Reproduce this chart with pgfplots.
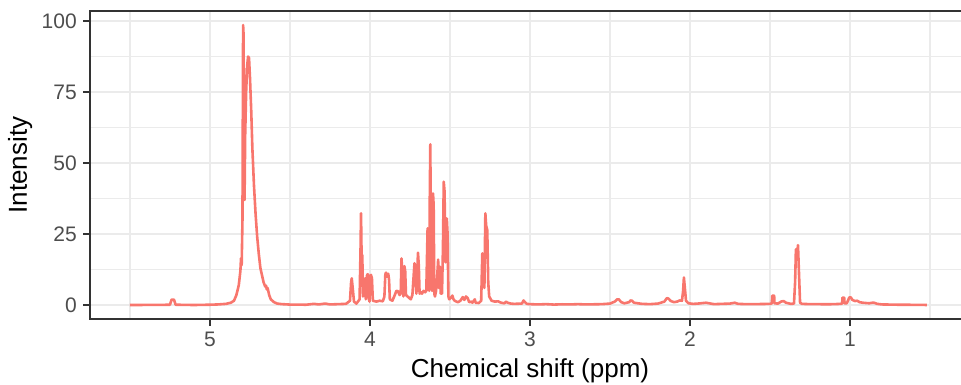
\documentclass[border=0pt]{standalone}
\usepackage{fontspec}
\setmainfont{Liberation Sans}
\usepackage{pgfplots}
\pgfplotsset{compat=1.18}
\definecolor{linecol}{HTML}{F8766D}
\definecolor{gridcol}{HTML}{EBEBEB}
\definecolor{tickcol}{HTML}{4D4D4D}
\definecolor{framecol}{HTML}{333333}
\begin{document}
\begin{tikzpicture}[x=1pt,y=1pt]
\path[use as bounding box] (0,0) rectangle (961,384);
\begin{axis}[
  at={(90pt,65pt)}, anchor=south west,
  scale only axis, width=880pt, height=308pt,
  x dir=reverse, xmin=0.25, xmax=5.75, ymin=-4.93, ymax=103.53,
  xtick={1,2,3,4,5}, ytick={0,25,50,75,100},
  minor xtick={0.5,1.5,2.5,3.5,4.5,5.5}, minor ytick={12.5,37.5,62.5,87.5},
  grid=both,
  major grid style={gridcol, line width=2.2pt},
  minor grid style={gridcol, line width=1.1pt},
  axis line style={framecol, line width=2.2pt},
  tick align=outside, tick pos=left,
  major tick length=6.5pt, minor tick length=0pt,
  major tick style={framecol, line width=2.2pt},
  /pgf/number format/assume math mode=true,
  ticklabel style={font=\fontsize{21}{21}\selectfont, text=tickcol, inner sep=0pt},
  xticklabel style={anchor=north, yshift=-6pt},
  yticklabel style={anchor=east, xshift=-6.5pt},
  every axis x label/.style={at={(axis description cs:0.5,0)}, anchor=base, yshift=-58pt, font=\fontsize{26}{26}\selectfont},
  every axis y label/.style={at={(axis description cs:-0.0716,0.5)}, rotate=90, anchor=base, font=\fontsize{26}{26}\selectfont},
  xlabel={Chemical shift (ppm)}, ylabel={Intensity},
]
\addplot[linecol, line width=2.6pt, line join=round, mark=none] coordinates {
(5.50,0.0) (5.30,0.05) (5.25,0.1) (5.24,1.9) (5.225,1.9) (5.215,0.1) (5.10,0.0) (5.00,0.1)
(4.95,0.2) (4.90,0.4) (4.87,0.8) (4.85,1.5) (4.835,3.5) (4.82,7) (4.81,12) (4.806,16.5)
(4.802,14) (4.797,30) (4.793,98.6) (4.790,95) (4.787,45) (4.784,37) (4.780,60) (4.774,75)
(4.768,84) (4.762,87.5) (4.756,87) (4.750,80) (4.742,68) (4.735,55) (4.725,42) (4.715,32)
(4.705,24) (4.695,18) (4.685,13) (4.675,10.5) (4.665,8) (4.655,6.5) (4.650,6.8) (4.645,5.5)
(4.640,6.0) (4.630,3.5) (4.620,2.0) (4.60,1.0) (4.58,0.5) (4.55,0.3) (4.50,0.15) (4.40,0.1)
(4.35,0.4) (4.32,0.2) (4.28,0.5) (4.25,0.2) (4.20,0.3) (4.15,0.4) (4.125,1.5) (4.118,8)
(4.114,9.4) (4.108,6) (4.10,1.2) (4.085,0.5) (4.065,2) (4.059,20) (4.056,32.3) (4.052,15)
(4.048,17.6) (4.044,3) (4.038,6) (4.031,9.4) (4.026,2) (4.019,10.4) (4.014,10.9) (4.010,3)
(4.003,1.2) (3.998,10.2) (3.994,10.6) (3.988,9.5) (3.982,1.5) (3.96,1.2) (3.94,1.5) (3.92,1.3)
(3.91,3) (3.904,10.8) (3.90,11.4) (3.893,10) (3.886,11) (3.881,9) (3.876,2) (3.86,1.5)
(3.845,3.5) (3.835,5) (3.825,4.8) (3.815,3.5) (3.808,4) (3.803,16.4) (3.797,10) (3.791,3)
(3.785,13.7) (3.780,12) (3.775,3.5) (3.765,3) (3.755,2.5) (3.745,2) (3.735,3.5) (3.722,14.7)
(3.716,10) (3.710,4) (3.700,18.4) (3.695,14) (3.690,4) (3.682,4.5) (3.675,4) (3.665,5)
(3.655,4.5) (3.648,5) (3.640,27) (3.635,20) (3.630,5) (3.626,40) (3.623,56.6) (3.619,20)
(3.612,5) (3.606,39.3) (3.602,35) (3.598,4) (3.594,3) (3.587,5) (3.580,10) (3.574,16)
(3.569,6) (3.563,13.5) (3.558,4) (3.550,4) (3.544,20) (3.539,43.4) (3.534,40) (3.528,15)
(3.520,30.5) (3.515,25) (3.510,3) (3.505,2) (3.495,2.5) (3.485,3.3) (3.478,2) (3.47,1.5)
(3.46,1.2) (3.45,1) (3.435,1.5) (3.42,2.8) (3.41,1.8) (3.40,3) (3.39,2.5) (3.38,1)
(3.365,1.2) (3.36,0.8) (3.345,2) (3.34,0.8) (3.32,0.7) (3.305,1.5) (3.298,18.2) (3.291,15)
(3.285,6) (3.279,32.3) (3.274,28) (3.267,26.4) (3.261,8) (3.255,3) (3.24,1.5) (3.22,1.2)
(3.20,1.3) (3.18,0.8) (3.16,0.6) (3.15,1.2) (3.14,0.8) (3.12,0.5) (3.10,0.4) (3.05,0.5)
(3.04,1.6) (3.035,1.2) (3.02,0.4) (3.00,0.3) (2.95,0.2) (2.90,0.3) (2.85,0.15) (2.80,0.25)
(2.75,0.2) (2.70,0.3) (2.65,0.2) (2.60,0.25) (2.55,0.3) (2.50,0.5) (2.47,1.2) (2.455,2.0)
(2.445,2.0) (2.43,1.0) (2.41,0.6) (2.38,1.0) (2.372,1.6) (2.362,1.5) (2.35,0.8) (2.30,0.4)
(2.25,0.3) (2.20,0.5) (2.16,1.2) (2.145,2.4) (2.135,2.3) (2.12,1.4) (2.10,1.0) (2.08,1.2)
(2.065,1.6) (2.05,1.5) (2.043,5) (2.038,9.7) (2.032,6) (2.025,1.5) (2.01,0.6) (1.98,0.4)
(1.95,0.5) (1.90,0.8) (1.88,0.6) (1.85,0.3) (1.80,0.4) (1.75,0.5) (1.72,0.8) (1.70,0.4)
(1.65,0.3) (1.60,0.3) (1.55,0.35) (1.50,0.4) (1.488,0.6) (1.486,3.3) (1.474,3.3) (1.472,0.6)
(1.45,0.5) (1.43,1.2) (1.415,1.4) (1.40,0.8) (1.37,0.4) (1.35,0.5) (1.343,8) (1.338,19.6)
(1.330,18) (1.325,21.1) (1.318,10) (1.312,0.8) (1.30,0.4) (1.25,0.3) (1.20,0.3) (1.15,0.25)
(1.10,0.3) (1.06,0.4) (1.049,0.5) (1.047,2.6) (1.036,2.6) (1.034,0.6) (1.02,0.6) (1.004,2.7)
(0.995,2.7) (0.985,1.8) (0.97,1.4) (0.955,1.5) (0.94,1.0) (0.92,0.8) (0.90,0.7) (0.88,0.6)
(0.86,0.8) (0.85,0.8) (0.83,0.4) (0.80,0.2) (0.75,0.15) (0.70,0.1) (0.65,0.1) (0.60,0.05)
(0.55,0.05) (0.52,0.0)
};
\end{axis}
\end{tikzpicture}
\end{document}
